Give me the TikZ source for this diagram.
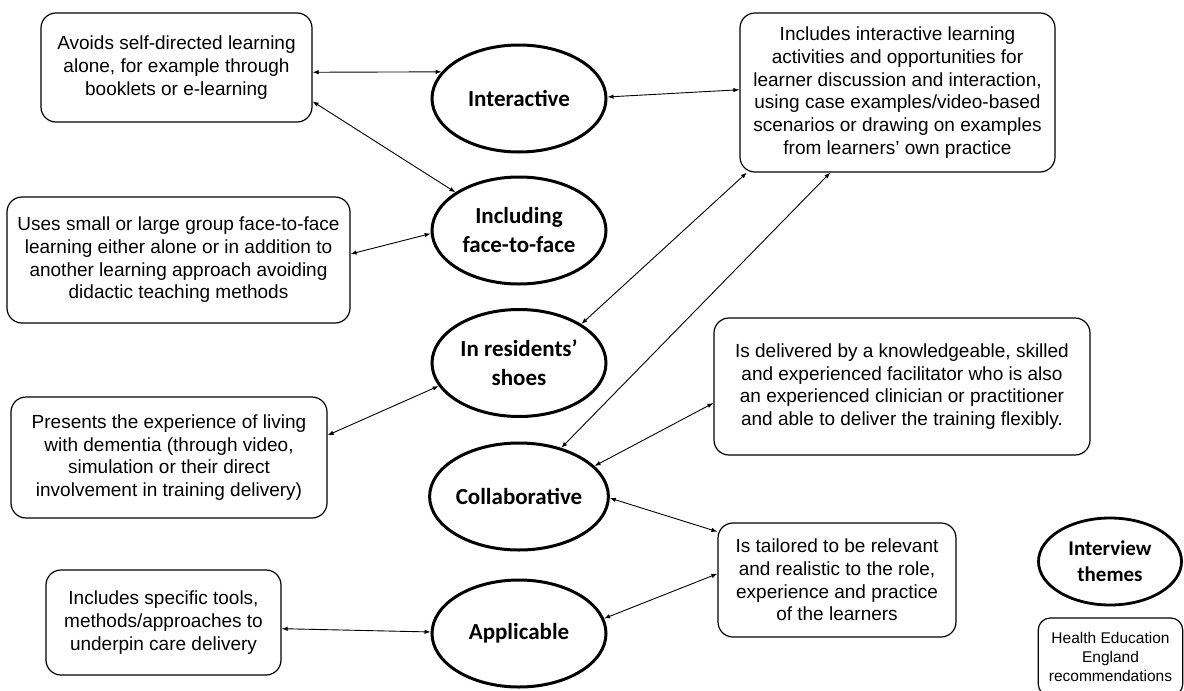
\documentclass[tikz,border=0pt]{standalone}
\usepackage{fontspec}
\setmainfont{Liberation Sans}
\newfontfamily\themefont{Carlito}
\usetikzlibrary{shapes.geometric,arrows.meta}

\tikzset{
  recbox/.style={draw, rounded corners=15pt, line width=1.2pt, inner sep=0pt,
    align=center, font=\fontsize{19}{22.7}\selectfont},
  theme/.style={draw, ellipse, line width=3pt, inner sep=0pt,
    minimum width=174pt, minimum height=107pt, align=center,
    font=\themefont\bfseries\fontsize{23}{29}\selectfont},
  link/.style={line width=0.9pt, {Latex[length=6pt,width=4.5pt]}-{Latex[length=6pt,width=4.5pt]}}
}

\begin{document}
\begin{tikzpicture}[x=1pt,y=-1pt]
\useasboundingbox (0,0) rectangle (1184,691);

% interview themes (ellipses)
\node[theme] (int) at (519,98.5) {Interactive};
\node[theme] (inc) at (519,230.5) {Including\\face-to-face};
\node[theme] (res) at (519,363) {In residents’\\shoes};
\node[theme] (col) at (519,496.5) {Collaborative};
\node[theme] (app) at (519,633.5) {Applicable};

% recommendation boxes
\node[recbox, minimum width=271pt, minimum height=109pt] (ba) at (176.5,67.5)
  {Avoids self-directed learning\\alone, for example through\\booklets or e-learning};
\node[recbox, minimum width=343pt, minimum height=126pt] (bb) at (178.5,260)
  {Uses small or large group face-to-face\\learning either alone or in addition to\\another learning approach avoiding\\didactic teaching methods};
\node[recbox, minimum width=316pt, minimum height=121pt] (bf) at (169,457.5)
  {Presents the experience of living\\with dementia (through video,\\simulation or their direct\\involvement in training delivery)};
\node[recbox, minimum width=235pt, minimum height=105pt] (bg) at (163.5,622.5)
  {Includes specific tools,\\methods/approaches to\\underpin care delivery};
\node[recbox, minimum width=315pt, minimum height=159pt] (bc) at (897.5,92.5)
  {Includes interactive learning\\activities and opportunities for\\learner discussion and interaction,\\using case examples/video-based\\scenarios or drawing on examples\\from learners’ own practice};
\node[recbox, minimum width=376pt, minimum height=137pt] (bd) at (902,386.5)
  {Is delivered by a knowledgeable, skilled\\and experienced facilitator who is also\\an experienced clinician or practitioner\\and able to deliver the training flexibly.};
\node[recbox, minimum width=238pt, minimum height=114pt] (be) at (837,580)
  {Is tailored to be relevant\\and realistic to the role,\\experience and practice\\of the learners};

% key
\node[theme, line width=2.8pt, minimum width=143pt, minimum height=87pt,
  font=\themefont\bfseries\fontsize{21}{26}\selectfont] (keyt) at (1110,561.5)
  {Interview\\themes};
\node[recbox, rounded corners=12pt, minimum width=144.5pt, minimum height=78pt,
  font=\fontsize{15.5}{18.7}\selectfont] (keyr) at (1110.5,657)
  {Health Education\\England\\recommendations};

% connectors
\draw[link] (ba.-2.3) -- (int.161.6);
\draw[link] (ba.-14.1) -- (inc.149);
\draw[link] (bb.2.3) -- (inc.182.2);
\draw[link] (int.1) -- (bc.179.1);
\draw[link] (res.32.4) -- (bc.208.2);
\draw[link] (col.49) -- (bc.230.9);
\draw[link] (bf.8.8) -- (res.196.7);
\draw[link] (col.22) -- (bd.185.6);
\draw[link] (col.-1) -- (be.158.4);
\draw[link] (app.10) -- (be.177.6);
\draw[link] (bg.-3.2) -- (app.179);
\end{tikzpicture}
\end{document}
